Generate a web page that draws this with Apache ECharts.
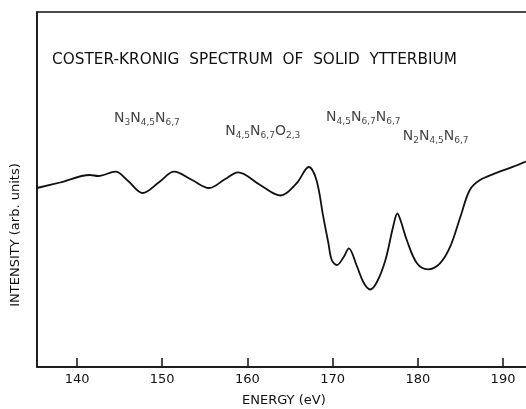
<!DOCTYPE html>
<html>
<head>
<meta charset="UTF-8">
<title>Coster-Kronig spectrum</title>
<script src="https://cdn.jsdelivr.net/npm/echarts@6/dist/echarts.min.js"></script>
<style>
  html, body { margin: 0; padding: 0; background: #fff; }
  #chart { width: 526px; height: 409px; }
</style>
</head>
<body>
<div id="chart"></div>
<script>
// spectrum (energy in eV, intensity in arb. units)
var energy = [135.3, 138.0, 141.5, 142.5, 144.5, 146.0, 147.7, 149.7, 151.4, 153.5,
  155.5, 157.4, 158.9, 161.5, 163.9, 165.8, 167.2, 168.1, 168.9, 169.5,
  169.9, 170.5, 171.3, 171.9, 172.8, 173.6, 174.4, 175.2, 176.2, 177.1,
  177.6, 178.0, 178.7, 179.9, 181.2, 182.6, 183.8, 185.0, 186.1, 187.3,
  189.3, 191.2, 192.7];
var intensity = [179, 184.5, 192, 191, 195.3, 186, 174, 185.3, 195.3, 187,
  179, 188, 194.7, 182, 171.5, 184, 200, 187, 150.3, 124,
  107, 102, 110, 118.7, 102, 85, 77.5, 85, 107, 140.3,
  153.5, 146, 127, 103.7, 97.7, 103.7, 120.3, 150.3, 177, 187,
  194.3, 200.3, 205.5];

var tickValues = [140, 150, 160, 170, 180, 190];

// transition labels: [energy, height, rich text]
var peakNames = [
  [148.2, 248, '{n|N}{s|3}{n|N}{s|4,5}{n|N}{s|6,7}'],
  [161.8, 234.5, '{n|N}{s|4,5}{n|N}{s|6,7}{n|O}{s|2,3}'],
  [173.6, 248.5, '{n|N}{s|4,5}{n|N}{s|6,7}{n|N}{s|6,7}'],
  [182.1, 230, '{n|N}{s|2}{n|N}{s|4,5}{n|N}{s|6,7}']
];

var FONT = 'DejaVu Sans';

var chart = echarts.init(document.getElementById('chart'));

var option = {
  animation: false,
  backgroundColor: '#fff',
  title: {
    text: 'COSTER-KRONIG  SPECTRUM  OF  SOLID  YTTERBIUM',
    left: 52,
    top: 53,
    padding: 0,
    textStyle: { fontFamily: FONT, fontSize: 15.3, fontWeight: 'normal', color: '#111' }
  },
  grid: {
    left: 37, top: 12, right: -3, bottom: 42,
    outerBoundsMode: 'none',
    show: true, borderColor: '#111', borderWidth: 1.5
  },
  xAxis: {
    type: 'value',
    min: 135.3,
    max: 193.05,
    splitLine: { show: false },
    axisLine: { lineStyle: { color: '#111', width: 1.5 } },
    axisTick: { inside: true, length: 9, customValues: tickValues, lineStyle: { color: '#111', width: 1.5 } },
    axisLabel: { customValues: tickValues, margin: 6, fontFamily: FONT, fontSize: 13, color: '#111' }
  },
  yAxis: {
    type: 'value',
    min: 0,
    max: 355,
    splitLine: { show: false },
    axisLine: { show: true, lineStyle: { color: '#111', width: 1.5 } },
    axisTick: { show: false },
    axisLabel: { show: false }
  },
  graphic: [
    {
      type: 'text', left: 242, top: 394,
      style: { text: 'ENERGY (eV)', font: '13px "' + FONT + '"', fill: '#111' }
    },
    {
      type: 'text', x: 16, y: 235, rotation: Math.PI / 2,
      style: { text: 'INTENSITY (arb. units)', font: '13px "' + FONT + '"', fill: '#111',
        align: 'center', verticalAlign: 'middle' }
    }
  ],
  series: [
    {
      type: 'line',
      data: energy.map(function (e, i) { return [e, intensity[i]]; }),
      smooth: 0.35,
      symbol: 'none',
      lineStyle: { color: '#111', width: 1.8 }
    },
    {
      type: 'scatter',
      data: peakNames.map(function (p) { return [p[0], p[1]]; }),
      symbolSize: 0,
      label: {
        show: true,
        position: 'inside',
        color: '#111',
        formatter: function (params) { return peakNames[params.dataIndex][2]; },
        rich: {
          n: { fontFamily: FONT, fontSize: 14, color: '#111', lineHeight: 16, padding: [0, 0, 2, 0], verticalAlign: 'top' },
          s: { fontFamily: FONT, fontSize: 9, color: '#111', lineHeight: 10, verticalAlign: 'bottom' }
        }
      },
      silent: true
    }
  ]
};

chart.setOption(option);
</script>
</body>
</html>
